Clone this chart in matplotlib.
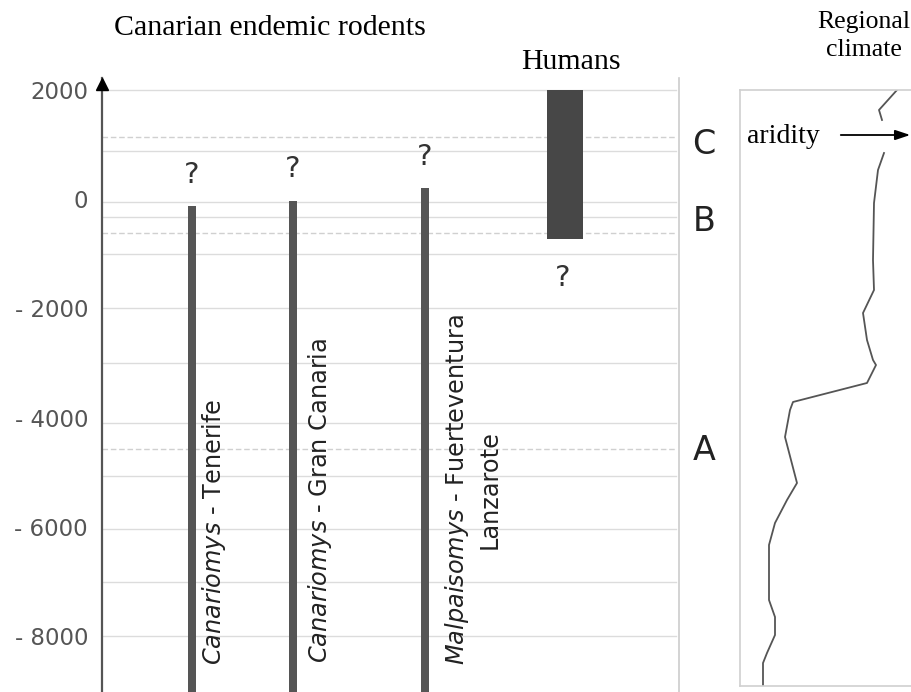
import matplotlib
matplotlib.use("Agg")
import matplotlib.pyplot as plt
import numpy as np

plt.rcParams['mathtext.fontset'] = 'custom'
plt.rcParams['mathtext.it'] = 'DejaVu Sans:italic'
plt.rcParams['mathtext.rm'] = 'DejaVu Sans'

# ---------------- data ----------------
taxa = ["$\\mathit{Canariomys}$ - Tenerife",
        "$\\mathit{Canariomys}$ - Gran Canaria",
        "$\\mathit{Malpaisomys}$ - Fuerteventura\nLanzarote"]
taxa_x = [1.0, 2.01, 3.33]
taxa_top = [-130, -30, 200]          # last record (years)
humans_x = 4.73
humans_top = 2000
humans_bottom = -730

grid_solid = [2000, 880, -50, -330, -1000, -2000, -3000, -4100, -5070, -6040, -7010, -8000]
grid_dashed = [1140, -620, -4580]
ytick_vals = [2000, 0, -2000, -4000, -6000, -8000]
ytick_labels = ["2000", "0", "- 2000", "- 4000", "- 6000", "- 8000"]

phases = ["C", "B", "A"]
phase_years = [1000, -410, -4600]

# regional climate curve (aridity index, year)
climate_aridity = [157, 139, 142, np.nan, 144, 138, 134, 133, 134, 123, 127, 133, 136, 127,
                   53, 50, 45, 57, 47, 35, 29, 29, 35, 35, 27, 23, 23]
climate_year = [2000, 1634, 1451, np.nan, 846, 535, -70, -1114, -1663, -2084, -2579, -2945, -3037, -3366,
                -3714, -3861, -4355, -5198, -5509, -5930, -6333, -7341, -7652, -7982, -8311, -8495, -8898]

# ---------------- figure ----------------
W, H = 912, 692
fig = plt.figure(figsize=(W / 100, H / 100), dpi=100)

def px_to_year(py):
    return 2000 - (py - 90) / 54.6 * 1000

# main panel
ax = fig.add_axes([102 / W, 0, (679 - 102) / W, (692 - 78) / H])
ax.set_ylim(px_to_year(692), px_to_year(78))
ax.set_xlim(0.1, 0.1 + 5.77)

for g in grid_solid:
    ax.axhline(g, xmin=0, xmax=0.995, color="#dcdcdc", lw=1.0, zorder=0)
for g in grid_dashed:
    ax.axhline(g, xmin=0, xmax=0.995, color="#d0d0d0", lw=1.0, ls=(0, (4, 2)), zorder=0)

ybot = px_to_year(692)
ax.bar(taxa_x, [t - ybot for t in taxa_top], bottom=ybot, width=0.085,
       color="#555555", zorder=2)
ax.bar([humans_x], [humans_top - humans_bottom], bottom=humans_bottom, width=0.36,
       color="#474747", zorder=2)

# question marks
for x, t in zip(taxa_x, taxa_top):
    ax.text(x, t + 580, "?", ha="center", va="center", fontsize=21, color="#333333")
ax.text(humans_x - 0.02, humans_bottom - 710, "?", ha="center", va="center",
        fontsize=21, color="#333333")

# taxon labels
lab_fs = 17.3
ax.text(1.22, px_to_year(665), taxa[0], rotation=90, ha="center", va="bottom",
        fontsize=lab_fs, color="#222222")
ax.text(2.28, px_to_year(663), taxa[1], rotation=90, ha="center", va="bottom",
        fontsize=lab_fs, color="#222222")
ax.text(3.80, px_to_year(665), taxa[2], rotation=90, ha="center", va="bottom",
        fontsize=lab_fs, color="#222222", multialignment="center", linespacing=1.35)

# phase letters
for p, y in zip(phases, phase_years):
    ax.text(6.12, y, p, ha="center", va="center", fontsize=24, color="#222222",
            clip_on=False)

ax.set_yticks(ytick_vals)
ax.set_yticklabels(ytick_labels, fontsize=16.5, color="#555555")
ax.tick_params(axis="y", length=0, pad=10)
ax.set_xticks([])
for s in ["top", "bottom"]:
    ax.spines[s].set_visible(False)
ax.spines["left"].set_color("#555555")
ax.spines["left"].set_linewidth(1.6)
ax.spines["right"].set_color("#cccccc")
ax.spines["right"].set_linewidth(1.2)
ax.plot([0], [px_to_year(84)], marker="^", color="black", markersize=9,
        transform=ax.get_yaxis_transform(), clip_on=False, zorder=5)

# right panel
ax2 = fig.add_axes([740 / W, (692 - 686) / H, (935 - 740) / W, (686 - 90) / H])
ax2.set_ylim(px_to_year(686), px_to_year(90))
ax2.set_xlim(0, 195)
ax2.plot(climate_aridity, climate_year, color="#555555", lw=1.3)
ax2.set_xticks([])
ax2.set_yticks([])
for s in ["top", "left", "bottom"]:
    ax2.spines[s].set_color("#d0d0d0")
    ax2.spines[s].set_linewidth(1.2)
ax2.spines["right"].set_visible(False)
ax2.annotate("", xy=(173, px_to_year(135)), xytext=(98, px_to_year(135)),
             arrowprops=dict(arrowstyle="-|>,head_length=0.9,head_width=0.3",
                             color="black", lw=1.3))
ax2.text(7, px_to_year(137), "aridity", ha="left", va="center", fontsize=20,
         family="Liberation Serif", color="black")

# titles
fig.text(270 / W, 1 - 28 / H, "Canarian endemic rodents", ha="center", va="center",
         fontsize=21.5, family="Liberation Serif")
fig.text(571 / W, 1 - 62 / H, "Humans", ha="center", va="center",
         fontsize=21.5, family="Liberation Serif")
fig.text(864 / W, 1 - 36 / H, "Regional\nclimate", ha="center", va="center",
         fontsize=18.5, family="Liberation Serif", linespacing=1.4)

fig.savefig("out.png", dpi=100)
